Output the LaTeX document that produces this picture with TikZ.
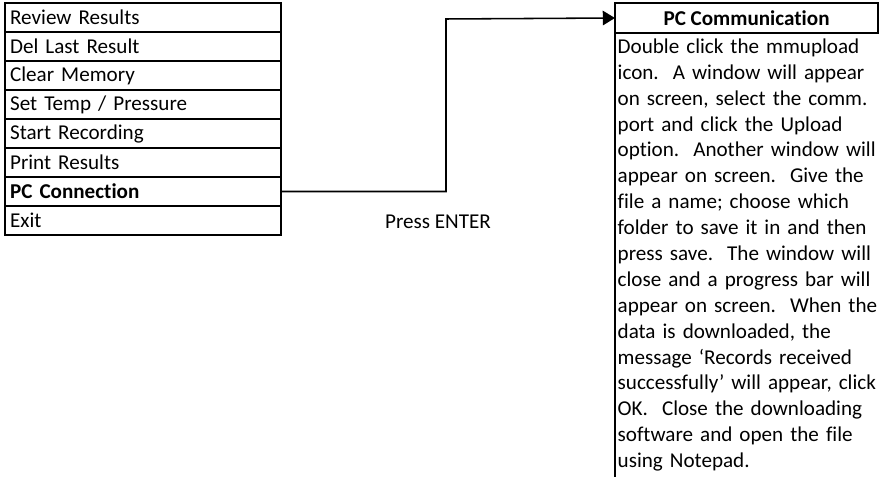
\documentclass[tikz,border=0pt]{standalone}
\usepackage{fontspec}
\setmainfont{Carlito}[Ligatures={NoCommon}]
\usetikzlibrary{arrows.meta, positioning}
\tikzset{
	item/.style={draw, line width=0.55pt, minimum width=124.2pt, minimum height=13.05pt,
		text width=119.6pt, align=left, inner xsep=2.3pt, inner ysep=0pt, outer sep=0pt,
		font=\fontsize{9.5}{11}\selectfont},
	picked/.style={item, line width=0.95pt, font=\fontsize{9.5}{11}\selectfont\bfseries},
	headbox/.style={draw, line width=0.95pt, minimum width=118.4pt, minimum height=13.5pt,
		inner sep=0pt, outer sep=0pt, font=\fontsize{9.5}{11}\selectfont\bfseries},
	bodytext/.style={text width=117.5pt, align=left, inner xsep=1pt, inner ysep=2.4pt,
		font=\fontsize{9.5}{11.65}\selectfont},
	arr/.style={-{Triangle[length=5.5pt, width=6.5pt]}, line width=0.7pt},
}
\begin{document}
\begin{tikzpicture}[x=0.45pt, y=-0.45pt]
	\useasboundingbox (0,0) rectangle (880,478);
	% menu
	\node[item, anchor=north west] (review) at (5,3) {Review Results};
	\node[item, below=0pt of review] (del) {Del Last Result};
	\node[item, below=0pt of del] (clear) {Clear Memory};
	\node[item, below=0pt of clear] (temp) {Set Temp / Pressure};
	\node[item, below=0pt of temp] (start) {Start Recording};
	\node[item, below=0pt of start] (print) {Print Results};
	\node[picked, below=0pt of print] (pc) {PC Connection};
	\node[item, below=0pt of pc] (exit) {Exit};
	% screen
	\node[headbox, anchor=north west] (head) at (615,3) {PC Communication};
	\node[bodytext, anchor=north west] (body) at (head.south west) {Double click the mmupload\\icon.\ \ A window will appear\\on screen, select the comm.\\port and click the Upload\\option.\ \ Another window will\\appear on screen.\ \ Give the\\file a name; choose which\\folder to save it in and then\\press save.\ \ The window will\\close and a progress bar will\\appear on screen.\ \ When the\\data is downloaded, the\\message ‘Records received\\successfully’ will appear, click\\OK.\ \ Close the downloading\\software and open the file\\using Notepad.};
	\draw[line width=0.95pt] (head.south west) -- (head.south west |- body.south);
	\node[font=\fontsize{9.5}{11}\selectfont] (enter) at (438,222) {Press ENTER};
	\draw[arr] (pc.east) -| (446,19) -- (head.west);
\end{tikzpicture}
\end{document}
